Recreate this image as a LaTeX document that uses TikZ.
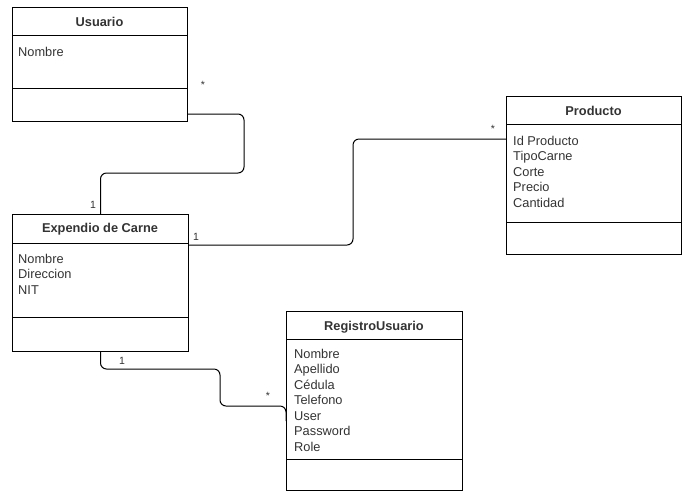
\documentclass[tikz,border=0pt]{standalone}
\usepackage{fontspec}
\setmainfont{Liberation Sans}
\usetikzlibrary{positioning}

\begin{document}
\begin{tikzpicture}[x=1pt, y=-1pt]
  \tikzstyle{classbox} = [draw, line width=1pt, anchor=north west, inner sep=0]
  \tikzstyle{divider} = [line width=1pt]
  \tikzstyle{title} = [font=\bfseries\fontsize{12.8}{15}\selectfont, text=black!80]
  \tikzstyle{attrs} = [font=\fontsize{12.8}{15.5}\selectfont, align=left, anchor=north west, inner sep=0, text=black!80]
  \tikzstyle{assoc} = [line width=1pt, rounded corners=6pt]
  \tikzstyle{mult} = [font=\fontsize{10.5}{11}\selectfont, text=black!80, inner sep=0]
  \useasboundingbox (0,0) rectangle (684,491);

  % classes
  \node[classbox, minimum width=175, minimum height=114] (usuario) at (12,7) {};
  \draw[divider] (12,35) -- (187,35);
  \draw[divider] (12,88) -- (187,88);
  \node[title] (usuarioT) at (99.5,22) {Usuario};
  \node[attrs] (usuarioA) at (18,47) {Nombre};

  \node[classbox, minimum width=176, minimum height=137] (expendio) at (12,214) {};
  \draw[divider] (12,243) -- (188,243);
  \draw[divider] (12,317) -- (188,317);
  \node[title] (expendioT) at (100,229) {Expendio de Carne};
  \node[attrs] (expendioA) at (18,254) {Nombre\\Direccion\\NIT};

  \node[classbox, minimum width=175, minimum height=158] (producto) at (506,96) {};
  \draw[divider] (506,124) -- (681,124);
  \draw[divider] (506,222) -- (681,222);
  \node[title] (productoT) at (593.5,111) {Producto};
  \node[attrs] (productoA) at (513,136) {Id Producto\\TipoCarne\\Corte\\Precio\\Cantidad};

  \node[classbox, minimum width=176, minimum height=179] (registro) at (286,311) {};
  \draw[divider] (286,339) -- (462,339);
  \draw[divider] (286,459) -- (462,459);
  \node[title] (registroT) at (374,327) {RegistroUsuario};
  \node[attrs] (registroA) at (294,349) {Nombre\\Apellido\\C\'edula\\Telefono\\User\\Password\\Role};

  % associations
  \draw[assoc] ([yshift=8pt]usuario.south east) -- ++(56,0) -- ++(0,59) -| (expendio.north);
  \draw[assoc] ([yshift=-31pt]expendio.north east) -- (353,245) -- (353,139) -- ([yshift=-43pt]producto.north west);
  \draw[assoc] (expendio.south) |- (220,369) |- (286,406) -- ([yshift=-110pt]registro.north west);

  % multiplicities
  \node[mult] (m1) at (203,85) {*};
  \node[mult] (m2) at (93,205) {1};
  \node[mult] (m3) at (196,237) {1};
  \node[mult] (m4) at (493,129) {*};
  \node[mult] (m5) at (122,361) {1};
  \node[mult] (m6) at (268,396) {*};
\end{tikzpicture}
\end{document}
